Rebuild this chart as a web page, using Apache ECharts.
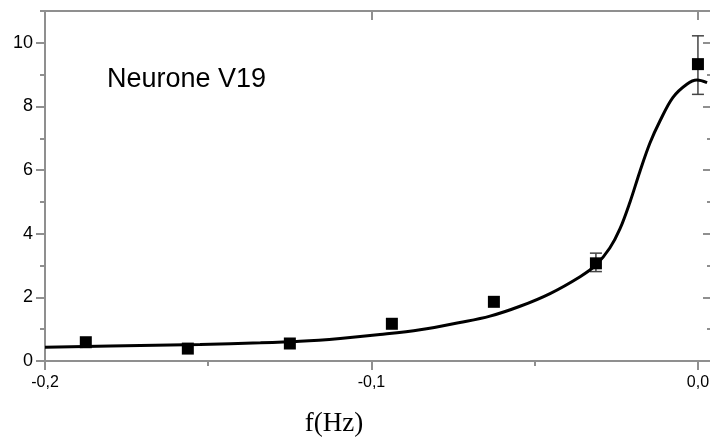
<!DOCTYPE html>
<html>
<head>
<meta charset="utf-8">
<script src="https://cdn.jsdelivr.net/npm/echarts@6/dist/echarts.min.js"></script>
<style>
  html, body { margin: 0; padding: 0; background: #fff; }
  #chart { width: 710px; height: 438px; }
</style>
</head>
<body>
<div id="chart"></div>
<script>
// measured points (frequency in Hz, response)
const pointX = [-0.1875, -0.15625, -0.125, -0.09375, -0.0625, -0.03125, 0];
const pointY = [0.59, 0.39, 0.55, 1.17, 1.86, 3.07, 9.33];
// error bars only visible on the last two points
const errX = [-0.03125, 0];
const errLow = [2.81, 8.38];
const errHigh = [3.39, 10.22];

// fitted curve
const fitX = [-0.2, -0.18, -0.1525, -0.134, -0.1219, -0.1096, -0.0974, -0.0851, -0.0729, -0.0637,
  -0.0545, -0.0453, -0.0361, -0.0312, -0.027, -0.0239, -0.0208, -0.0178, -0.0147, -0.0116,
  -0.0077, -0.0034, -0.0003, 0.0028];
const fitY = [0.43, 0.47, 0.52, 0.57, 0.62, 0.71, 0.83, 0.98, 1.21, 1.41,
  1.72, 2.12, 2.65, 3.02, 3.55, 4.15, 5.0, 5.95, 6.85, 7.55,
  8.28, 8.70, 8.83, 8.75];

const xMajor = [-0.2, -0.1, 0];
const xMinor = [-0.15, -0.05];
const yMajor = [0, 2, 4, 6, 8, 10];
const yMinor = [1, 3, 5, 7, 9, 11];

const X_MIN = -0.2, X_MAX = 0.004;
const Y_MIN = 0, Y_MAX = 11;
const axisGrey = '#8f8f8f';

const chart = echarts.init(document.getElementById('chart'));

const baseX = { type: 'value', min: X_MIN, max: X_MAX, splitLine: { show: false } };
const baseY = { type: 'value', min: Y_MIN, max: Y_MAX, splitLine: { show: false } };
const lineStyle = { color: axisGrey, width: 2 };
const tickStyle = { color: axisGrey, width: 2 };

const option = {
  animation: false,
  backgroundColor: '#ffffff',
  grid: { left: 45, right: -1, top: 11, bottom: 77, outerBoundsMode: 'none' },
  xAxis: [
    {
      ...baseX,
      position: 'bottom',
      axisLine: { onZero: false, lineStyle },
      axisTick: { customValues: xMajor, length: 9, lineStyle: tickStyle },
      axisLabel: {
        customValues: xMajor,
        margin: 14,
        color: '#000',
        fontFamily: 'Arial, "Liberation Sans", sans-serif',
        fontSize: 16,
        formatter: v => v.toFixed(1).replace('.', ',')
      }
    },
    {
      ...baseX,
      position: 'bottom',
      axisLine: { show: false, onZero: false },
      axisTick: { customValues: xMinor, length: 5, lineStyle: tickStyle },
      axisLabel: { show: false }
    },
    {
      ...baseX,
      position: 'top',
      axisLine: { onZero: false, lineStyle },
      axisTick: { customValues: xMajor, inside: true, length: 9, lineStyle: tickStyle },
      axisLabel: { show: false }
    }
  ],
  yAxis: [
    {
      ...baseY,
      position: 'left',
      axisLine: { onZero: false, lineStyle },
      axisTick: { customValues: yMajor, length: 9, lineStyle: tickStyle },
      axisLabel: {
        customValues: yMajor,
        margin: 12,
        color: '#000',
        fontFamily: 'Arial, "Liberation Sans", sans-serif',
        fontSize: 18
      }
    },
    {
      ...baseY,
      position: 'left',
      axisLine: { show: false, onZero: false },
      axisTick: { customValues: yMinor, length: 5, lineStyle: tickStyle },
      axisLabel: { show: false }
    },
    {
      ...baseY,
      position: 'right',
      axisLine: { onZero: false, lineStyle },
      axisTick: { customValues: yMajor, inside: true, length: 8, lineStyle: tickStyle },
      axisLabel: { show: false }
    },
    {
      ...baseY,
      position: 'right',
      axisLine: { show: false, onZero: false },
      axisTick: { customValues: yMinor, inside: true, length: 4, lineStyle: tickStyle },
      axisLabel: { show: false }
    }
  ],
  graphic: [
    {
      type: 'text',
      left: 107,
      top: 66,
      style: {
        text: 'Neurone V19',
        fill: '#000',
        font: '27px Arial, "Liberation Sans", sans-serif'
      }
    },
    {
      type: 'text',
      x: 334,
      y: 424,
      style: {
        text: 'f(Hz)',
        fill: '#000',
        font: '27px "Times New Roman", "Liberation Serif", serif',
        align: 'center',
        verticalAlign: 'middle'
      }
    }
  ],
  series: [
    {
      name: 'error',
      type: 'custom',
      z: 1,
      data: errX.map((x, i) => [x, errLow[i], errHigh[i]]),
      renderItem: (params, api) => {
        const lo = api.coord([api.value(0), api.value(1)]);
        const hi = api.coord([api.value(0), api.value(2)]);
        const w = 6;
        const style = { stroke: '#444', lineWidth: 1.5 };
        return {
          type: 'group',
          children: [
            { type: 'line', shape: { x1: lo[0], y1: lo[1], x2: hi[0], y2: hi[1] }, style },
            { type: 'line', shape: { x1: lo[0] - w, y1: lo[1], x2: lo[0] + w, y2: lo[1] }, style },
            { type: 'line', shape: { x1: hi[0] - w, y1: hi[1], x2: hi[0] + w, y2: hi[1] }, style }
          ]
        };
      }
    },
    {
      name: 'fit',
      type: 'line',
      z: 2,
      data: fitX.map((x, i) => [x, fitY[i]]),
      smooth: 0.35,
      showSymbol: false,
      lineStyle: { color: '#000', width: 3 }
    },
    {
      name: 'data',
      type: 'scatter',
      z: 3,
      data: pointX.map((x, i) => [x, pointY[i]]),
      symbol: 'rect',
      symbolSize: 12,
      itemStyle: { color: '#000', opacity: 1 }
    }
  ]
};

chart.setOption(option);
</script>
</body>
</html>
